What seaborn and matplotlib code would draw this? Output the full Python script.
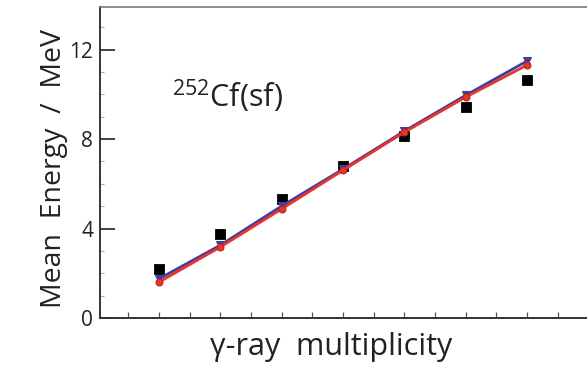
import matplotlib
matplotlib.use("Agg")
import matplotlib.pyplot as plt
from matplotlib.ticker import MultipleLocator
import seaborn as sns
import pandas as pd

multiplicity = [1, 2, 3, 4, 5, 6, 7]
experiment = [2.19, 3.75, 5.30, 6.80, 8.13, 9.43, 10.65]
model_blue = [1.75, 3.25, 5.00, 6.65, 8.35, 9.95, 11.48]
model_red = [1.60, 3.17, 4.87, 6.60, 8.30, 9.87, 11.30]

sns.set_style("ticks")
plt.rcParams['font.family'] = ['Open Sans', 'DejaVu Sans']
plt.rcParams['mathtext.fontset'] = 'custom'
plt.rcParams['mathtext.rm'] = 'Open Sans'

fig = plt.figure(figsize=(5.87, 3.67), dpi=100)
ax = fig.add_axes([100/587, 49/367, 1 - 100/587, (318-7)/367])

df = pd.DataFrame({"m": multiplicity, "exp": experiment, "blue": model_blue, "red": model_red})

sns.scatterplot(data=df, x="m", y="exp", marker="s", s=55, color="black",
                edgecolor="black", ax=ax, zorder=3)
sns.lineplot(data=df, x="m", y="blue", color="#3b3f9e", lw=2.0, marker="v",
             markersize=6, markeredgecolor="#3b3f9e", ax=ax, zorder=4)
sns.lineplot(data=df, x="m", y="red", color="#e8342c", lw=2.0, marker="o",
             markersize=5, markeredgecolor="#c02020", ax=ax, zorder=5)

ax.set_xlim(0.04, 7.98)
ax.set_ylim(0, 13.9)
ax.xaxis.set_major_locator(MultipleLocator(1))
ax.xaxis.set_minor_locator(MultipleLocator(0.5))
ax.yaxis.set_major_locator(MultipleLocator(4))
ax.yaxis.set_minor_locator(MultipleLocator(1))
ax.tick_params(axis="y", which="major", direction="in", length=11, width=1.2,
               color="#222222", labelsize=15, labelcolor="#222222", pad=5)
ax.tick_params(axis="y", which="minor", direction="in", length=3, width=0.8,
               color="#aaaaaa")
ax.tick_params(axis="x", which="both", direction="in", length=4, width=0.9,
               color="#555555", labelbottom=False)

for s in ["left", "bottom"]:
    ax.spines[s].set_color("#333333")
    ax.spines[s].set_linewidth(1.4)
ax.spines["top"].set_color("#777777")
ax.spines["top"].set_linewidth(1.2)
ax.spines["right"].set_visible(False)

ax.set_xlabel("γ-ray  multiplicity", fontsize=22, color="#222222")
ax.set_ylabel("Mean  Energy  /  MeV", fontsize=20.5, color="#222222")
ax.xaxis.set_label_coords(0.475, -0.045)
ax.yaxis.set_label_coords(-0.066, 0.48)

ax.text(0.148, 0.678, r"$^{252}$Cf(sf)", transform=ax.transAxes, fontsize=22,
        color="#222222", ha="left", va="baseline")

fig.savefig("out.png", dpi=100)
